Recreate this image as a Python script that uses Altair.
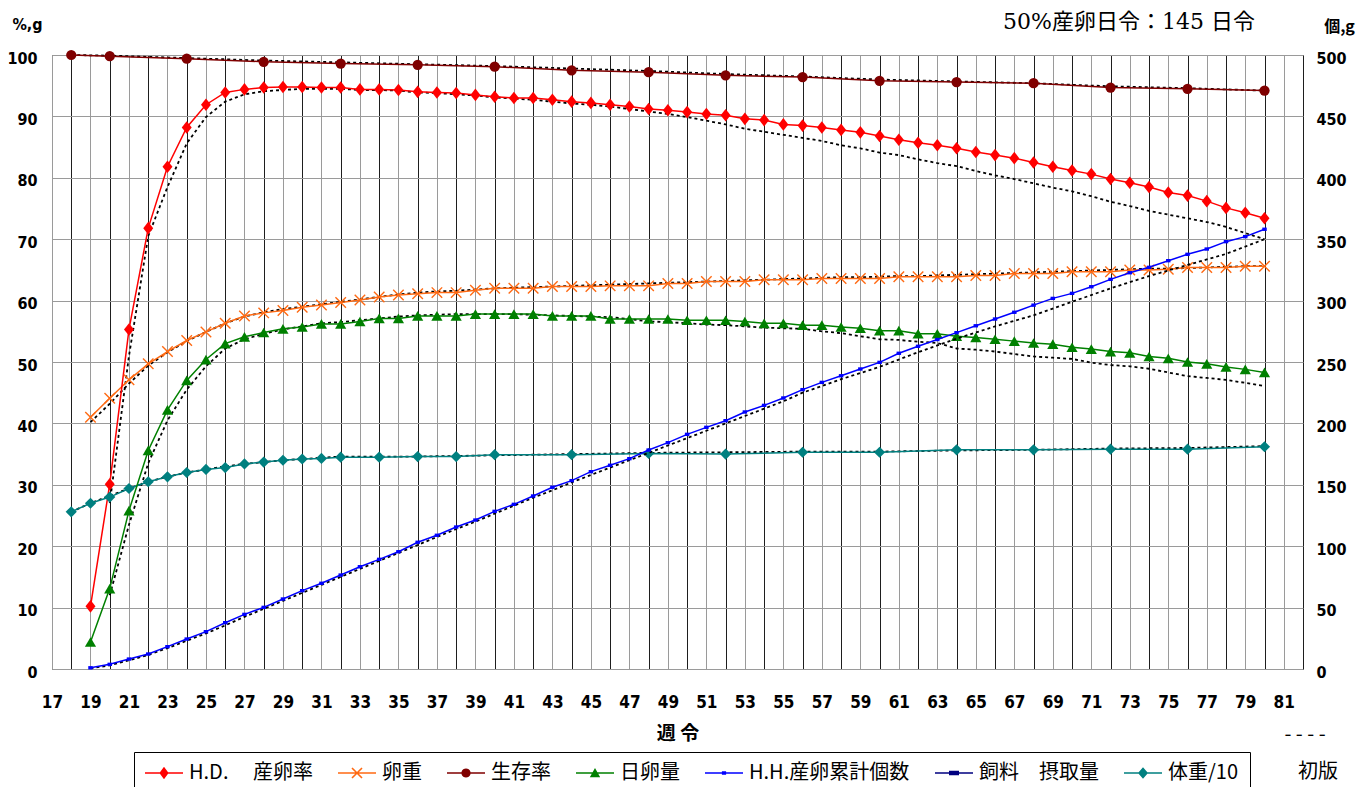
import math
import altair as alt
import pandas as pd

# ---------------- data ----------------
weeks = list(range(19, 81))

hd = [10.2, 30.1, 55.3, 71.8, 81.8, 88.2, 91.9, 93.9, 94.4, 94.7, 94.8, 94.8, 94.7, 94.7,
      94.4, 94.4, 94.3, 94.0, 93.9, 93.8, 93.5, 93.2, 93.0, 93.0, 92.7, 92.4, 92.2, 91.9,
      91.6, 91.2, 91.0, 90.7, 90.4, 90.2, 89.6, 89.4, 88.7, 88.5, 88.2, 87.8, 87.4, 86.8,
      86.2, 85.7, 85.3, 84.8, 84.2, 83.7, 83.2, 82.5, 81.8, 81.2, 80.6, 79.8, 79.2, 78.5,
      77.6, 77.1, 76.2, 75.1, 74.3, 73.4]
hd_base_weeks = list(range(20, 81))
hd_base = [27.0, 51.0, 70.5, 78.5, 85.6, 89.9, 92.4, 93.6, 94.1, 94.3, 94.5, 94.5, 94.5,
           94.3, 94.3, 94.2, 93.9, 93.8, 93.6, 93.4, 93.1, 92.9, 92.7, 92.4, 92.1, 91.9,
           91.6, 91.2, 90.8, 90.4, 89.9, 89.3, 88.7, 88.0, 87.5, 87.0, 86.5, 86.0, 85.3,
           84.8, 84.1, 83.7, 83.0, 82.4, 81.9, 81.1, 80.4, 79.8, 79.1, 78.4, 77.8, 77.0,
           76.1, 75.4, 74.6, 74.0, 73.4, 72.8, 72.0, 71.0, 70.0]

ew = [41.0, 44.1, 47.1, 49.7, 51.7, 53.5, 54.9, 56.3, 57.5, 58.0, 58.4, 58.9, 59.3, 59.7,
      60.1, 60.6, 60.9, 61.1, 61.3, 61.3, 61.7, 62.0, 62.0, 62.0, 62.3, 62.3, 62.3, 62.4,
      62.4, 62.4, 62.8, 62.8, 63.1, 63.1, 63.1, 63.4, 63.4, 63.4, 63.6, 63.6, 63.6, 63.6,
      63.9, 63.9, 63.9, 63.9, 64.1, 64.1, 64.4, 64.4, 64.4, 64.7, 64.7, 64.7, 65.0, 65.0,
      65.1, 65.4, 65.4, 65.4, 65.6, 65.6]
ew_base = [40.2, 43.2, 46.5, 49.4, 51.6, 53.4, 54.9, 56.3, 57.4, 58.1, 58.6, 59.0, 59.4,
           59.8, 60.2, 60.6, 61.0, 61.3, 61.5, 61.6, 61.8, 62.0, 62.1, 62.2, 62.3, 62.4,
           62.5, 62.6, 62.7, 62.8, 62.9, 63.0, 63.1, 63.2, 63.3, 63.4, 63.5, 63.6, 63.7,
           63.8, 63.8, 63.9, 64.0, 64.0, 64.1, 64.2, 64.3, 64.4, 64.5, 64.6, 64.7, 64.8,
           64.9, 65.0, 65.1, 65.2, 65.2, 65.3, 65.4, 65.5, 65.6, 65.6]

lv_weeks = [18, 20, 24, 28, 32, 36, 40, 44, 48, 52, 56, 60, 64, 68, 72, 76, 80]
lv = [100.0, 99.8, 99.4, 98.9, 98.6, 98.4, 98.1, 97.5, 97.2, 96.7, 96.4, 95.8, 95.6,
      95.4, 94.7, 94.5, 94.2]
lv_base = [100.0, 99.9, 99.5, 99.1, 98.8, 98.5, 98.2, 97.8, 97.4, 96.9, 96.5, 96.0, 95.7,
           95.4, 94.9, 94.6, 94.2]

em = [4.4, 13.1, 25.8, 35.6, 42.2, 47.0, 50.4, 53.0, 54.1, 54.8, 55.4, 55.7, 56.2, 56.2,
      56.6, 57.1, 57.1, 57.5, 57.5, 57.5, 57.8, 57.8, 57.8, 57.8, 57.5, 57.5, 57.5, 57.0,
      57.0, 57.0, 57.0, 56.8, 56.8, 56.8, 56.6, 56.3, 56.3, 56.0, 56.0, 55.7, 55.5, 55.1,
      55.1, 54.6, 54.6, 54.2, 54.0, 53.7, 53.4, 53.1, 52.9, 52.4, 52.1, 51.7, 51.5, 50.9,
      50.6, 50.0, 49.7, 49.2, 48.8, 48.3]
em_base_weeks = list(range(20, 81))
em_base = [12.0, 23.5, 33.5, 40.5, 45.5, 49.3, 52.2, 53.7, 54.6, 55.3, 55.8, 56.3, 56.5,
           56.8, 57.1, 57.4, 57.6, 57.7, 57.8, 57.8, 57.8, 57.8, 57.7, 57.6, 57.5, 57.4,
           57.3, 57.0, 56.6, 56.5, 56.3, 56.1, 56.0, 55.8, 55.6, 55.5, 55.4, 55.0, 54.7,
           54.2, 53.7, 53.6, 53.3, 53.1, 52.2, 52.0, 51.7, 51.3, 50.9, 50.7, 50.5, 49.9,
           49.5, 49.3, 48.9, 48.3, 47.7, 47.4, 47.1, 46.6, 46.1]

hh = [1.0, 3.8, 8.1, 12.2, 18.2, 24.4, 30.4, 37.7, 44.5, 50.2, 57.0, 63.8, 69.8, 76.5,
      83.3, 89.3, 95.5, 103.2, 108.9, 115.6, 121.3, 128.4, 134.1, 140.9, 148.0, 153.4,
      160.7, 165.9, 171.3, 178.3, 184.3, 191.1, 196.8, 202.2, 209.3, 214.7, 220.7, 227.5,
      233.4, 238.8, 244.3, 249.7, 257.1, 262.8, 268.3, 273.9, 279.5, 285.0, 290.5, 296.3,
      301.8, 305.9, 311.3, 317.3, 322.7, 327.1, 332.5, 337.7, 342.0, 348.0, 352.1, 358.1]
hh_base = [0.5, 3.0, 7.0, 11.5, 17.0, 23.0, 29.0, 35.5, 42.5, 49.0, 55.5, 62.0, 68.5,
           75.0, 81.5, 88.0, 94.5, 101.0, 107.5, 114.0, 120.0, 126.5, 133.0, 139.5, 145.5,
           152.0, 158.0, 164.0, 170.0, 176.0, 182.0, 188.0, 194.0, 200.0, 206.0, 212.0,
           218.0, 225.0, 230.5, 236.0, 241.0, 246.0, 252.0, 258.0, 263.5, 269.0, 274.0,
           279.0, 283.5, 288.0, 293.5, 299.0, 304.5, 310.0, 315.0, 320.0, 324.5, 329.0,
           333.5, 338.0, 344.0, 350.0]

bw_weeks = [18, 19, 20, 21, 22, 23, 24, 25, 26, 27, 28, 29, 30, 31, 32, 34, 36, 38, 40,
            44, 48, 52, 56, 60, 64, 68, 72, 76, 80]
bw = [25.6, 27.0, 28.0, 29.4, 30.5, 31.3, 32.0, 32.5, 32.8, 33.4, 33.7, 34.0, 34.2, 34.3,
      34.5, 34.5, 34.6, 34.6, 34.9, 34.9, 35.1, 35.0, 35.3, 35.3, 35.7, 35.7, 35.8, 35.8,
      36.2]
bw_base = [25.6, 27.0, 28.2, 29.4, 30.5, 31.3, 32.0, 32.5, 33.0, 33.4, 33.7, 34.0, 34.2,
           34.4, 34.6, 34.6, 34.6, 34.7, 34.8, 35.0, 35.2, 35.3, 35.4, 35.4, 35.6, 35.7,
           35.9, 36.0, 36.3]

series_names = ["H.D.\u3000 産卵率", "卵重", "生存率", "日卵量", "H.H.産卵累計個数",
                "飼料\u3000摂取量", "体重/10"]
series_colors = ["#FF0000", "#FF6A13", "#800000", "#008000", "#0000FF", "#000080", "#008080"]
week_ticks = list(range(17, 83))
left_ticks = list(range(0, 101, 10))
right_ticks = list(range(0, 501, 50))

title_text = "50%産卵日令：145 日令"
baseline_label = "初版"
baseline_dash = "- - - -"

# ---------------- styling helpers ----------------
NUM_FONT = "Liberation Sans Narrow, DejaVu Sans Condensed, Arial Narrow, sans-serif"
JP_FONT = "Noto Sans CJK JP"


def frame(ws, vs, name):
    return pd.DataFrame({"week": ws, "value": vs, "series": name})


def poly(points):
    area = 0.0
    for i in range(len(points)):
        x0, y0 = points[i]
        x1, y1 = points[(i + 1) % len(points)]
        area += x0 * y1 - x1 * y0
    if area < 0:
        points = points[::-1]
    return "M" + "L".join(f"{x:.3f},{y:.3f}" for x, y in points) + "Z"


def seg(p, q, t):
    dx, dy = q[0] - p[0], q[1] - p[1]
    ln = math.hypot(dx, dy)
    nx, ny = -dy / ln * t, dx / ln * t
    return poly([(p[0] + nx, p[1] + ny), (q[0] + nx, q[1] + ny),
                 (q[0] - nx, q[1] - ny), (p[0] - nx, p[1] - ny)])


# legend symbols: nominal box 20px (1 unit = 10px); the drawn sample spans 38px to the right
C = 0.9  # marker centre (units)
LINE = poly([(-1, -0.085), (2.8, -0.085), (2.8, 0.085), (-1, 0.085)])
leg_diamond = poly([(C, -0.62), (C + 0.46, 0), (C, 0.62), (C - 0.46, 0)])
leg_x = (seg((C - 0.5, -0.5), (C + 0.5, 0.5), 0.08)
         + seg((C - 0.5, 0.5), (C + 0.5, -0.5), 0.08))
leg_circle = poly([(C + 0.46 * math.cos(2 * math.pi * k / 20),
                    0.46 * math.sin(2 * math.pi * k / 20)) for k in range(20)])
leg_tri = poly([(C, -0.5), (C + 0.52, 0.42), (C - 0.52, 0.42)])
leg_sq = poly([(C - 0.21, -0.17), (C + 0.21, -0.17), (C + 0.21, 0.17), (C - 0.21, 0.17)])
leg_dash = poly([(C - 0.5, -0.22), (C + 0.5, -0.22), (C + 0.5, 0.22), (C - 0.5, 0.22)])
leg_teal = poly([(C, -0.58), (C + 0.5, 0), (C, 0.58), (C - 0.5, 0)])
legend_paths = [LINE + m for m in [leg_diamond, leg_x, leg_circle, leg_tri, leg_sq,
                                    leg_dash, leg_teal]]

plot_diamond = "M0,-1.2L0.95,0L0,1.2L-0.95,0Z"
plot_x = "M-1,-1L1,1M-1,1L1,-1"
plot_rect = "M-1,-0.75L1,-0.75L1,0.75L-1,0.75Z"

# ---------------- scales / axes ----------------
X = alt.X(
    "week:Q",
    scale=alt.Scale(domain=[17, 82], nice=False, zero=False),
    axis=alt.Axis(
        values=week_ticks, format="d",
        labelExpr="datum.value % 2 == 1 ? datum.label : ''",
        grid=True,
        gridColor={"condition": {"test": "datum.value % 2 == 0", "value": "#1e1e1e"},
                   "value": "#9a9a9a"},
        gridWidth=1, ticks=False, domain=False,
        labelPadding=25, labelFontSize=17, labelFont=NUM_FONT, labelFontWeight="bold",
        labelColor="black", labelOverlap=False, labelFlush=False,
        title="週 令", titleFont=JP_FONT, titleFontSize=19, titleFontWeight="bold",
        titleColor="black", titleY=64, titleBaseline="middle",
    ),
)

Y_LEFT = alt.Y(
    "value:Q",
    scale=alt.Scale(domain=[0, 100], nice=False),
    axis=alt.Axis(
        values=left_ticks, grid=True, gridColor="#9a9a9a", gridWidth=1,
        ticks=False, domain=False, labelPadding=15, labelOffset=3,
        labelFontSize=16, labelFont=NUM_FONT, labelFontWeight="bold", labelColor="black",
        title="%,g", titleAngle=0, titleX=-25, titleY=-31, titleAlign="center",
        titleBaseline="middle", titleFont=NUM_FONT, titleFontSize=16,
        titleFontWeight="bold", titleColor="black",
    ),
)

Y_RIGHT = alt.Y(
    "value:Q",
    scale=alt.Scale(domain=[0, 500], nice=False),
    axis=alt.Axis(
        orient="right", values=right_ticks, grid=False,
        ticks=False, domain=False, labelPadding=13, labelOffset=3,
        labelFontSize=16, labelFont=NUM_FONT, labelFontWeight="bold", labelColor="black",
        title="個,g", titleAngle=0, titleX=36, titleY=-29, titleAlign="center",
        titleBaseline="middle", titleFont=JP_FONT, titleFontSize=16,
        titleFontWeight="bold", titleColor="black",
    ),
)

DOT = dict(color="black", strokeWidth=1.8, strokeDash=[3, 3])


def dotted(df, y):
    return alt.Chart(df).mark_line(**DOT).encode(x=X, y=y, order="week:Q")


def solid(df, y, color, width=1.5):
    return alt.Chart(df).mark_line(color=color, strokeWidth=width).encode(x=X, y=y, order="week:Q")


def pts(df, y, **kw):
    return alt.Chart(df).mark_point(opacity=1, **kw).encode(x=X, y=y)


d_hd = frame(weeks, hd, "hd")
d_hdb = frame(hd_base_weeks, hd_base, "hd_b")
d_ew = frame(weeks, ew, "ew")
d_ewb = frame(weeks, ew_base, "ew_b")
d_lv = frame(lv_weeks, lv, "lv")
d_lvb = frame(lv_weeks, lv_base, "lv_b")
d_em = frame(weeks, em, "em")
d_emb = frame(em_base_weeks, em_base, "em_b")
d_hh = frame(weeks, hh, "hh")
d_hhb = frame(weeks, hh_base, "hh_b")
d_bw = frame(bw_weeks, bw, "bw")
d_bwb = frame(bw_weeks, bw_base, "bw_b")

left = alt.layer(
    dotted(d_bwb, Y_LEFT), dotted(d_emb, Y_LEFT), dotted(d_ewb, Y_LEFT),
    dotted(d_lvb, Y_LEFT), dotted(d_hdb, Y_LEFT),
    solid(d_bw, Y_LEFT, series_colors[6]),
    solid(d_em, Y_LEFT, series_colors[3]),
    solid(d_ew, Y_LEFT, series_colors[1]),
    solid(d_lv, Y_LEFT, series_colors[2]),
    solid(d_hd, Y_LEFT, series_colors[0]),
    pts(d_bw, Y_LEFT, shape="diamond", filled=True, size=125, color=series_colors[6]),
    pts(d_em, Y_LEFT, shape="triangle-up", filled=True, size=125, color=series_colors[3]),
    pts(d_ew, Y_LEFT, shape=plot_x, filled=False, size=110, strokeWidth=1.4,
        color=series_colors[1]),
    pts(d_lv, Y_LEFT, shape="circle", filled=True, size=105, color=series_colors[2]),
    pts(d_hd, Y_LEFT, shape=plot_diamond, filled=True, size=110, color=series_colors[0]),
)

right = alt.layer(
    dotted(d_hhb, Y_RIGHT),
    solid(d_hh, Y_RIGHT, series_colors[4]),
    pts(d_hh, Y_RIGHT, shape=plot_rect, filled=True, size=20, color=series_colors[4]),
)

LEG = alt.Legend(
    orient="none", legendX=82, legendY=697, direction="horizontal", columns=7,
    title=None, labelFont=JP_FONT, labelFontSize=20, labelColor="black",
    labelLimit=400, symbolSize=400, labelOffset=24, columnPadding=25,
    padding=11, strokeColor="black", fillColor="white", symbolStrokeWidth=0,
)

legend_df = pd.DataFrame({"series": series_names})
legend_layer = (
    alt.Chart(legend_df)
    .mark_point(filled=True, opacity=1, size=400)
    .encode(
        color=alt.Color("series:N", scale=alt.Scale(domain=series_names, range=series_colors),
                        legend=LEG),
        shape=alt.Shape("series:N", scale=alt.Scale(domain=series_names, range=legend_paths),
                        legend=LEG),
    )
    .transform_filter("false")
)

ann_title = alt.Chart(pd.DataFrame({"t": [title_text]})).mark_text(
    align="right", baseline="middle", fontSize=22, font="DejaVu Serif, Noto Sans CJK JP",
    color="black",
).encode(text="t:N", x=alt.value(1203), y=alt.value(-33))

ann_dash = alt.Chart(pd.DataFrame({"t": [baseline_dash]})).mark_text(
    align="center", baseline="middle", fontSize=20, font=JP_FONT, color="black",
).encode(text="t:N", x=alt.value(1253), y=alt.value(680))

ann_label = alt.Chart(pd.DataFrame({"t": [baseline_label]})).mark_text(
    align="center", baseline="middle", fontSize=20, font=JP_FONT, color="black",
).encode(text="t:N", x=alt.value(1266), y=alt.value(717))

chart = (
    alt.layer(left, right, legend_layer, ann_title, ann_dash, ann_label)
    .resolve_scale(y="independent")
    .properties(
        width=1251, height=614,
        padding={"left": 44, "top": 47, "right": 54, "bottom": 118},
        autosize=alt.AutoSizeParams(type="none"),
        background="white",
    )
    .configure_view(fill="#CCFFCC", stroke="#555555", strokeWidth=1)
)

chart.save("out.html", embed_options={"renderer": "svg", "actions": False})
